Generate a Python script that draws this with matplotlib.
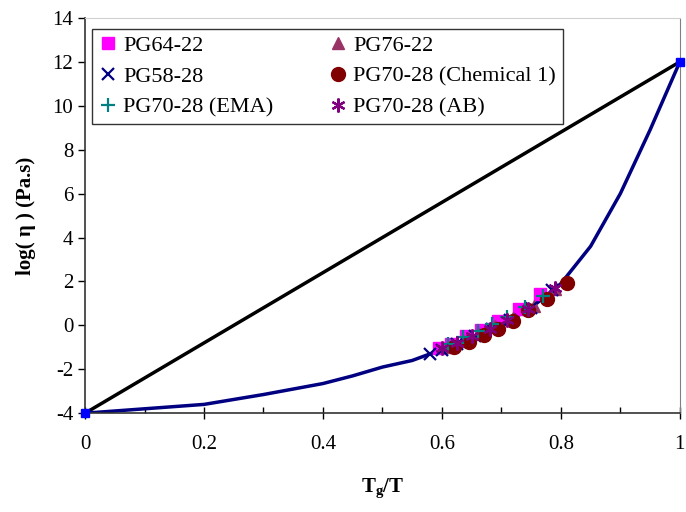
import matplotlib.pyplot as plt

plt.rcParams['font.family'] = ['Liberation Serif', 'DejaVu Serif']
plt.rcParams['mathtext.fontset'] = 'custom'
plt.rcParams['mathtext.rm'] = 'Liberation Serif'
plt.rcParams['mathtext.bf'] = 'Liberation Serif:bold'
plt.rcParams['axes.unicode_minus'] = False

# reference lines
line_x = [0, 1]
line_y = [-4, 12]
curve_x = [0, 0.1, 0.2, 0.3, 0.4, 0.45, 0.5, 0.55, 0.6, 0.65, 0.7, 0.75, 0.8, 0.85, 0.9, 0.95, 1.0]
curve_y = [-4, -3.8, -3.6, -3.15, -2.65, -2.3, -1.9, -1.6, -1.1, -0.6, 0.0, 0.8, 1.9, 3.6, 6.0, 8.9, 12]

# measured binders
pg6422_x = [0.595, 0.615, 0.64, 0.665, 0.695, 0.73, 0.765]
pg6422_y = [-1.05, -0.85, -0.5, -0.2, 0.2, 0.75, 1.45]
pg7622_x = [0.61, 0.635, 0.66, 0.69, 0.72, 0.755, 0.79]
pg7622_y = [-1.0, -0.7, -0.4, -0.05, 0.35, 0.9, 1.65]
pg5828_x = [0.58, 0.6, 0.625, 0.655, 0.685, 0.715, 0.75, 0.785]
pg5828_y = [-1.3, -1.1, -0.85, -0.5, -0.15, 0.25, 0.8, 1.6]
chem_x = [0.62, 0.645, 0.67, 0.695, 0.72, 0.745, 0.776, 0.81]
chem_y = [-1.0, -0.75, -0.45, -0.15, 0.22, 0.68, 1.22, 1.92]
ema_x = [0.61, 0.635, 0.66, 0.685, 0.71, 0.74, 0.77]
ema_y = [-0.85, -0.55, -0.25, 0.05, 0.4, 0.85, 1.35]
ab_x = [0.6, 0.625, 0.65, 0.68, 0.71, 0.745, 0.79]
ab_y = [-1.05, -0.8, -0.5, -0.15, 0.25, 0.75, 1.7]

fig = plt.figure(figsize=(6.86, 5.12), dpi=100)
ax = fig.add_axes([0.124, 0.193, 0.867, 0.772])

ax.plot(line_x, line_y, color='black', lw=2.5, zorder=2)
ax.plot(curve_x, curve_y, color='#000080', lw=2.5, zorder=2)
ax.plot(line_x, line_y, ls='none', marker='s', ms=6, color='#0000FF', zorder=3, clip_on=False)

ax.plot(pg6422_x, pg6422_y, ls='none', marker='s', ms=8, color='#FF00FF', label='PG64-22', zorder=4)
ax.plot(pg7622_x, pg7622_y, ls='none', marker='^', ms=8, color='#993366', label='PG76-22', zorder=4)
ax.plot(pg5828_x, pg5828_y, ls='none', marker='x', ms=9, mew=1.6, color='#000080', label='PG58-28', zorder=5)
ax.plot(chem_x, chem_y, ls='none', marker='o', ms=10, color='#800000', label='PG70-28 (Chemical 1)', zorder=5)
ax.plot(ema_x, ema_y, ls='none', marker='+', ms=10, mew=1.6, color='#008080', label='PG70-28 (EMA)', zorder=6)
ax.plot(ab_x, ab_y, ls='none', marker=(6, 2, 0), ms=10, mew=1.6, color='#800080', label='PG70-28 (AB)', zorder=6)

ax.set_xlim(0, 1)
ax.set_ylim(-4, 14)
ax.set_xticks([0, 0.2, 0.4, 0.6, 0.8, 1.0])
ax.set_xticklabels(['0', '0.2', '0.4', '0.6', '0.8', '1'])
ax.set_xticks([0.1, 0.3, 0.5, 0.7, 0.9], minor=True)
ax.set_yticks(range(-4, 15, 2))
ax.tick_params(axis='x', which='major', direction='inout', length=8, width=1, labelsize=15, pad=12)
ax.tick_params(axis='x', which='minor', direction='in', length=4, width=1)
ax.tick_params(axis='y', direction='out', length=5, width=1, labelsize=15)

for side in ['left', 'bottom']:
    ax.spines[side].set_color('#333333')
    ax.spines[side].set_linewidth(1.2)
ax.spines['top'].set_color('#d0d0d0')
ax.spines['right'].set_color('#808080')

ax.set_xlabel(r'$\mathbf{T_g}$/T', fontsize=15, fontweight='bold', labelpad=16)
ax.set_ylabel('log( η ) (Pa.s)', fontsize=15, fontweight='bold', labelpad=12)

handles, labels = ax.get_legend_handles_labels()
order = [0, 2, 4, 1, 3, 5]
leg = ax.legend([handles[i] for i in order], [labels[i] for i in order], ncol=2,
                loc='upper left', bbox_to_anchor=(92 / 686, 1 - 29 / 512),
                bbox_transform=fig.transFigure, fontsize=16, frameon=True, fancybox=False,
                edgecolor='#333333', framealpha=1, borderpad=0.3, labelspacing=0.45,
                handlelength=0.8, handletextpad=0.3, columnspacing=2.5, borderaxespad=0)
leg.get_frame().set_linewidth(1)

fig.savefig('out.png', dpi=100)
